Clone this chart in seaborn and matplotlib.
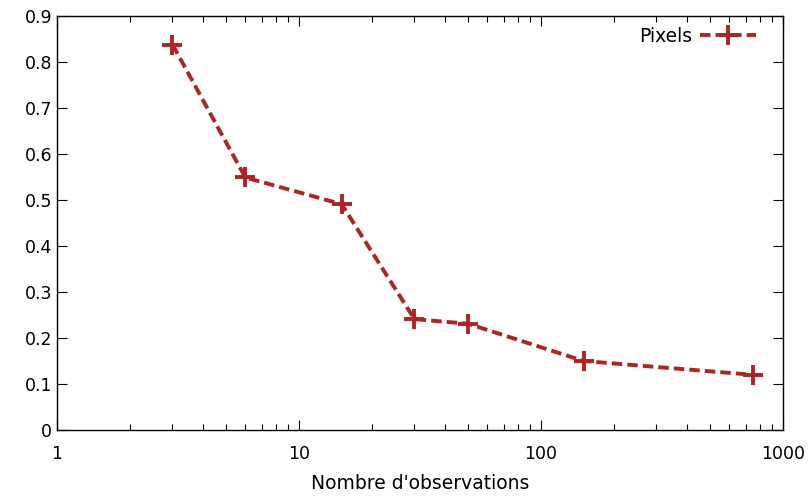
import pandas as pd
import matplotlib
matplotlib.use("Agg")
import matplotlib.pyplot as plt
import seaborn as sns

observations = [3, 6, 15, 30, 50, 150, 750]
pixels = [0.838, 0.549, 0.491, 0.241, 0.231, 0.150, 0.120]

df = pd.DataFrame({"obs": observations, "Pixels": pixels})

sns.set_style("ticks")
plt.rcParams['font.family'] = ['DejaVu Sans']
plt.rcParams['text.color'] = 'black'
plt.rcParams['xtick.color'] = 'black'
plt.rcParams['ytick.color'] = 'black'
plt.rcParams['axes.labelcolor'] = 'black'

red = "#b22222"
fig = plt.figure(figsize=(8.11, 4.97), dpi=100)
ax = fig.add_axes([57 / 811, 67 / 497, 726 / 811, 414 / 497])

sns.lineplot(data=df, x="obs", y="Pixels", ax=ax, color=red,
             linewidth=2.8, linestyle=(0, (2.7, 1.3)), marker="+",
             markersize=14, markeredgewidth=2.8, markeredgecolor=red,
             markerfacecolor=red, label="Pixels")

ax.set_xscale("log")
ax.set_xlim(1, 1000)
ax.set_ylim(0, 0.9)
ax.set_yticks([i / 10 for i in range(10)])
ax.set_yticklabels(["0"] + [f"{i / 10:.1f}" for i in range(1, 10)])
ax.set_xticks([1, 10, 100, 1000])
ax.set_xticklabels(["1", "10", "100", "1000"])
ax.set_xlabel("Nombre d'observations", fontsize=13.5, labelpad=8)
ax.set_ylabel("")

ax.tick_params(which="both", direction="in", top=True, right=True, labelsize=12.5)
ax.tick_params(axis="x", pad=11)
ax.tick_params(which="major", length=7, width=0.8)
ax.tick_params(which="minor", length=4, width=0.8)
for s in ax.spines.values():
    s.set_linewidth(1)
    s.set_color("black")

ax.legend(loc="upper right", frameon=False, markerfirst=False,
          handlelength=3.0, fontsize=13.5, bbox_to_anchor=(0.986, 1.015),
          handletextpad=0.4)

fig.savefig("out.png", dpi=100)
